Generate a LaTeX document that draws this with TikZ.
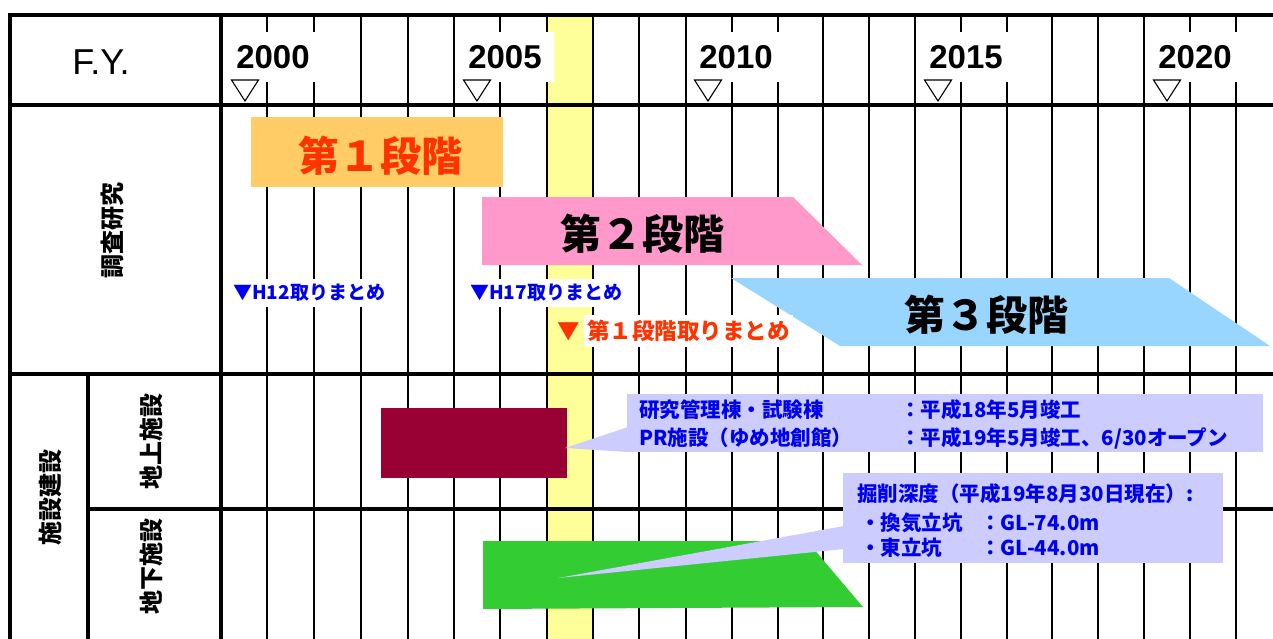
\documentclass[tikz,border=0pt]{standalone}
\usepackage{fontspec}
\setmainfont{Liberation Sans}
\newfontfamily\jpf{Noto Sans CJK JP}
\definecolor{bandyellow}{HTML}{FFFF99}
\definecolor{stageorange}{HTML}{FFCC66}
\definecolor{stagered}{HTML}{FF3300}
\definecolor{stagepink}{HTML}{FF99CC}
\definecolor{stageblue}{HTML}{99D6FF}
\definecolor{barmaroon}{HTML}{990033}
\definecolor{shaftgreen}{HTML}{33CC33}
\definecolor{notelav}{HTML}{CCCCFF}
\definecolor{noteblue}{HTML}{0000F0}
\begin{document}
\begin{tikzpicture}[x=1pt,y=-1pt,
  gridline/.style={line width=1.6pt,black},
  frameline/.style={line width=3.2pt,black},
  yearlbl/.style={fill=white,inner xsep=12pt,inner ysep=13pt,font=\fontsize{33}{33}\selectfont\bfseries},
  yeartri/.style={draw=black,fill=white,line width=1.1pt},
  stagetxt/.style={font=\jpf\bfseries\fontsize{41}{41}\selectfont},
  rowlbl/.style={rotate=90,font=\jpf\bfseries\fontsize{24}{24}\selectfont},
  bluenote/.style={anchor=west,fill=white,inner xsep=4pt,inner ysep=5pt,text=noteblue,font=\jpf\bfseries\fontsize{19}{19}\selectfont},
  calltxt/.style={anchor=west,inner sep=0pt,text=noteblue,font=\jpf\bfseries\fontsize{20.5}{20.5}\selectfont}
]
\useasboundingbox (0,0) rectangle (1273,639);
\clip (0,0) rectangle (1273,639);
\fill[white] (0,0) rectangle (1273,639);
% yellow band
\fill[bandyellow] (547,15) rectangle (593,639);
% grid
\foreach \x in {267,314,361,408,454,500,547,593,639,686,732,778,823,869,915,961,1007,1052,1098,1144,1190,1236}
  \draw[gridline] (\x,15) -- (\x,639);
% frame
\draw[frameline] (10,639) -- (10,15) -- (1273,15);
\draw[frameline] (10,105) -- (1273,105);
\draw[frameline] (10,374) -- (1273,374);
\draw[frameline] (88,509) -- (1273,509);
\draw[frameline] (221,15) -- (221,639);
\draw[frameline] (88,374) -- (88,639);
% header
\node[font=\fontsize{36}{36}\selectfont] (fy) at (101,62) {F.Y.};
\foreach \c/\yr in {245/2000,477/2005,708/2010,938/2015,1167/2020}{
  \node[yearlbl] (y\yr) at (\c+28,57) {\yr};
  \draw[yeartri] (\c-13.5,80) -- (\c+13.5,80) -- (\c,101) -- cycle;
}
% row labels
\node[rowlbl] (lblA) at (112,230) {調査研究};
\node[rowlbl] (lblB) at (50,497) {施設建設};
\node[rowlbl] (lblC) at (151,441) {地上施設};
\node[rowlbl] (lblD) at (151,566) {地下施設};
% stages
\fill[stageorange] (251,117) rectangle (503,187);
\node[stagetxt,text=stagered] (st1) at (380,156) {第１段階};
\fill[stagepink] (482,197) -- (793,197) -- (862,265) -- (482,265) -- cycle;
\node[stagetxt] (st2) at (642,234) {第２段階};
\fill[stageblue] (731,278) -- (1169,278) -- (1270,346) -- (840,346) -- cycle;
\node[stagetxt] (st3) at (986,315) {第３段階};
% milestones
\node[bluenote] (h12) at (229,293) {▼H12取りまとめ};
\node[bluenote] (h17) at (466,293) {▼H17取りまとめ};
\node[text=stagered,inner sep=0pt,font=\jpf\bfseries\fontsize{22.5}{22.5}\selectfont] (redtri) at (569,332) {▼};
\node[anchor=west,fill=white,inner xsep=3pt,inner ysep=5pt,text=stagered,font=\jpf\bfseries\fontsize{22.5}{22.5}\selectfont] (redtxt) at (584,331) {第１段階取りまとめ};
% facilities
\fill[barmaroon] (381,408) rectangle (567,478);
\fill[shaftgreen] (483,541) -- (807,541) -- (863,607) -- (483,609) -- cycle;
% callout 1
\fill[notelav] (627,394) rectangle (1263,452);
\fill[notelav] (565,448) -- (628,427) -- (628,452) -- cycle;
\node[calltxt] (c1a) at (639,410) {研究管理棟・試験棟};
\node[calltxt] (c1b) at (900,410) {：平成18年5月竣工};
\node[calltxt] (c1c) at (639,438) {PR施設（ゆめ地創館）};
\node[calltxt] (c1d) at (900,438) {：平成19年5月竣工、6/30オープン};
% callout 2
\fill[notelav] (843,473) rectangle (1223,563);
\fill[notelav] (558,578) -- (844,526) -- (844,549) -- cycle;
\node[calltxt] (c2a) at (857,494) {掘削深度（平成19年8月30日現在）:};
\node[calltxt] (c2b) at (860,523) {・換気立坑};
\node[calltxt] (c2c) at (980,523) {：GL-74.0m};
\node[calltxt] (c2d) at (860,548) {・東立坑};
\node[calltxt] (c2e) at (980,548) {：GL-44.0m};
\end{tikzpicture}
\end{document}
